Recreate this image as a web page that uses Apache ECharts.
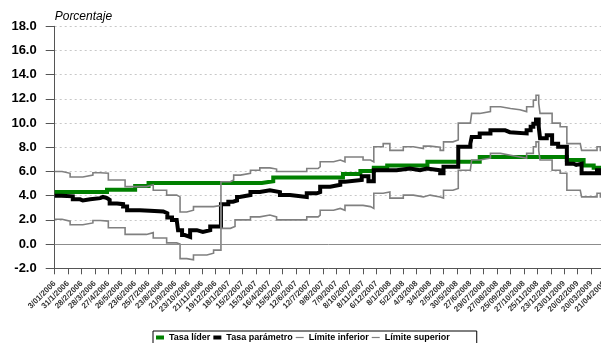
<!DOCTYPE html>
<html><head><meta charset="utf-8">
<script src="https://cdn.jsdelivr.net/npm/echarts@6/dist/echarts.min.js"></script>
<style>html,body{margin:0;padding:0;background:#fff}#c{width:601px;height:343px}</style>
</head><body><div id="c"></div>
<script>
// Category labels (one every 20 trading days); x values below are in label-index units
const xLabels = ['3/01/2006','31/1/2006','28/2/2006','28/3/2006','27/4/2006','26/5/2006','23/6/2006','25/7/2006','23/8/2006','21/9/2006','23/10/2006','21/11/2006','19/12/2006','18/1/2007','15/2/2007','15/3/2007','16/4/2007','15/5/2007','12/6/2007','12/7/2007','9/8/2007','7/9/2007','8/10/2007','8/11/2007','6/12/2007','8/1/2008','5/2/2008','4/3/2008','3/4/2008','2/5/2008','30/5/2008','27/6/2008','29/07/2008','27/08/2008','25/09/2008','27/10/2008','25/11/2008','23/12/2008','23/01/2009','20/02/2009','20/03/2009','21/04/2009'];

const tasaLider = [[0,4.3],[3.9,4.5],[6.0,4.8],[7.0,5.05],[15.45,5.2],[16.3,5.5],[21.5,5.8],[22.8,6.05],[23.8,6.3],[24.8,6.5],[27.8,6.8],[31.7,7.2],[38.2,6.95],[39.45,6.5],[40.2,6.3],[41,6.3]];

const tasaParametro = [[0,4.0],[0.5,3.95],[1.35,3.7],[1.9,3.6],[2.1,3.7],[2.65,3.8],[3.4,3.9],[3.6,3.8],[3.9,3.65],[4.1,3.35],[4.65,3.3],[5.1,3.1],[5.4,2.8],[6.35,2.75],[7.1,2.7],[8.1,2.55],[8.4,2.2],[8.75,2.0],[9.1,1.85],[9.2,1.15],[9.5,0.75],[9.7,0.6],[10.1,1.15],[10.6,1.0],[11.05,1.15],[11.6,1.45],[12.4,3.3],[12.95,3.5],[13.3,3.6],[13.6,3.9],[13.8,4.05],[14.6,4.3],[15.3,4.45],[16.05,4.3],[16.8,4.05],[17.55,3.9],[18.8,4.2],[19.55,4.3],[19.8,4.75],[20.55,4.9],[21.3,5.15],[21.65,5.3],[22.9,5.6],[23.4,5.2],[23.8,6.1],[25.5,6.25],[26.5,6.1],[27.25,6.25],[27.75,6.1],[28.75,5.85],[29.0,6.4],[30.1,8.05],[31.0,8.3],[31.1,8.85],[31.7,9.15],[32.5,9.4],[33.6,9.25],[33.95,9.15],[35.2,9.4],[35.5,9.7],[35.7,9.95],[35.9,10.3],[36.1,9.7],[36.2,8.75],[36.7,9.0],[37.1,8.3],[37.55,8.05],[38.2,6.65],[38.7,6.55],[38.9,6.65],[39.3,5.85],[40.45,6.1],[40.7,5.85],[41,5.85]];

const limiteInferior = [[0,6.0],[0.55,5.85],[1.15,5.55],[2.1,5.7],[2.85,5.9],[3.4,5.85],[4.0,5.3],[5.25,4.75],[6.85,4.9],[7.35,4.45],[8.35,4.05],[9.1,3.9],[9.35,2.65],[9.85,2.8],[10.35,3.1],[11.85,3.2],[12.4,1.3],[13.1,1.45],[13.45,2.0],[14.6,2.25],[15.3,2.4],[16.05,2.25],[16.55,2.0],[18.8,2.25],[19.65,2.4],[19.8,2.8],[20.8,2.95],[21.3,2.8],[21.65,3.2],[23.0,3.1],[23.55,2.95],[23.8,4.2],[24.5,4.3],[25.0,3.8],[26.0,4.05],[26.75,3.9],[27.5,4.05],[28.0,3.9],[28.75,3.8],[29.0,4.45],[29.7,4.6],[30.1,6.1],[31.0,6.25],[31.1,6.95],[31.7,7.1],[32.5,7.5],[33.25,7.35],[34.0,7.2],[34.7,7.1],[35.2,7.5],[35.7,8.05],[35.9,8.45],[36.1,7.75],[36.2,6.95],[37.1,6.1],[37.7,5.85],[38.2,4.45],[39.2,4.6],[39.3,3.9],[40.45,4.2],[40.7,3.9],[41,3.9]];

const limiteSuperior = [[0,2.05],[0.55,1.9],[1.15,1.6],[2.1,1.75],[2.85,1.95],[3.4,1.9],[4.0,1.35],[5.25,0.8],[6.85,0.95],[7.35,0.5],[8.35,0.1],[9.1,0.0],[9.35,-1.2],[9.85,-1.3],[10.35,-0.9],[11.35,-0.75],[11.85,-0.5],[12.4,5.15],[13.1,5.3],[13.35,5.7],[13.85,5.85],[14.6,6.1],[15.3,6.3],[16.05,6.2],[16.55,6.0],[18.8,6.25],[19.65,6.4],[19.8,6.8],[20.8,6.95],[21.3,6.8],[21.65,7.2],[23.0,6.95],[23.55,6.8],[23.8,8.05],[24.5,8.3],[25.0,7.75],[26.0,8.05],[26.75,7.9],[27.5,8.1],[28.0,8.0],[28.75,7.75],[29.0,8.45],[29.7,8.6],[30.1,10.0],[31.0,10.1],[31.1,10.8],[31.7,10.95],[32.5,11.35],[33.25,11.2],[34.0,11.1],[34.7,10.95],[35.2,11.35],[35.7,11.9],[35.9,12.3],[36.1,11.65],[36.2,10.8],[37.1,10.0],[37.7,9.7],[38.2,8.3],[39.2,8.45],[39.3,7.75],[40.45,8.05],[40.7,7.75],[41,7.75]];

const seriesNames = ['Tasa líder','Tasa parámetro','Límite inferior','Límite superior'];

const chart = echarts.init(document.getElementById('c'), null, {renderer:'canvas'});
const thinLine = 'path://M0,0M8,4M0,1.4L8,1.4L8,2.6L0,2.6Z';
function lineSeries(name, data, color, width){
  return {name, type:'line', data, step:'end', symbol:'none', showSymbol:false,
    lineStyle:{color, width, join:'miter'}, itemStyle:{color}, animation:false};
}
const s3 = lineSeries(seriesNames[2], limiteInferior, '#808080', 1.6);
s3.markLine = {silent:true, symbol:'none', animation:false, label:{show:false},
  lineStyle:{color:'#8c8c8c', type:'solid', width:1}, data:[{yAxis:0}]};

chart.setOption({
  animation:false,
  backgroundColor:'#fff',
  grid:{left:54.7, top:26.3, bottom:74.7, right:-3.4, containLabel:false, outerBoundsMode:'none'},
  legend:{
    left:153, top:331, orient:'horizontal',
    padding:[2,27,4,3], borderColor:'#000', borderWidth:1,
    itemWidth:8, itemHeight:4, itemGap:3,
    textStyle:{fontFamily:'Arial, Liberation Sans', fontWeight:'bold', fontSize:9, color:'#000'},
    itemStyle:{borderWidth:0},
    data:[
      {name:seriesNames[0], icon:'rect'},
      {name:seriesNames[1], icon:'rect'},
      {name:seriesNames[2], icon:thinLine},
      {name:seriesNames[3], icon:thinLine}
    ]
  },
  xAxis:{type:'value', min:0, max:41, interval:1,
    axisLine:{show:true, onZero:false, lineStyle:{color:'#555', width:1}},
    axisTick:{show:true, length:6, lineStyle:{color:'#555'}},
    axisLabel:{rotate:45, margin:14, fontFamily:'Arial, Liberation Sans', fontWeight:'bold', fontSize:8, color:'#333',
      formatter:v => { const k = Math.round(v); return Math.abs(v-k) < 1e-6 && xLabels[k] ? xLabels[k] : ''; }},
    splitLine:{show:false}
  },
  yAxis:{type:'value', min:-2, max:18, interval:2,
    name:'Porcentaje', nameLocation:'end', nameGap:10,
    nameTextStyle:{fontFamily:'Arial, Liberation Sans', fontStyle:'italic', fontSize:12, color:'#000', align:'left', verticalAlign:'middle'},
    axisLine:{show:true, lineStyle:{color:'#555', width:1}},
    axisTick:{show:true, length:9, lineStyle:{color:'#555'}},
    axisLabel:{margin:18, fontFamily:'Arial, Liberation Sans', fontWeight:'bold', fontSize:13, color:'#000', formatter:v => v.toFixed(1)},
    splitLine:{show:true, lineStyle:{color:'#c8c8c8', type:[2,3], width:1}}
  },
  series:[
    lineSeries(seriesNames[0], tasaLider, '#008000', 4),
    lineSeries(seriesNames[1], tasaParametro, '#000000', 4),
    s3,
    lineSeries(seriesNames[3], limiteSuperior, '#808080', 1.6)
  ]
});
</script></body></html>
